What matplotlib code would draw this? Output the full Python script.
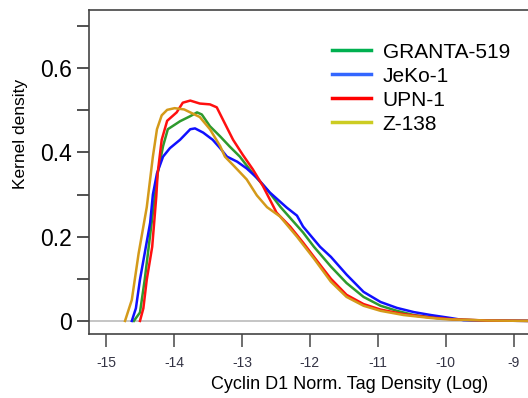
import matplotlib
matplotlib.use('Agg')
import matplotlib.pyplot as plt
from matplotlib.lines import Line2D
import numpy as np

plt.rcParams['font.family'] = ['Liberation Sans', 'DejaVu Sans']

# curves (x = log tag density, y = kernel density)
granta_x = [-14.59, -14.50, -14.43, -14.31, -14.24, -14.16, -14.09, -13.91, -13.76, -13.66, -13.59,
            -13.47, -13.32, -13.18, -13.03, -12.84, -12.63, -12.43, -12.10, -11.94, -11.69, -11.46,
            -11.21, -10.96, -10.72, -10.47, -10.13, -9.80, -9.40, -8.70]
granta_y = [0.0, 0.02, 0.098, 0.257, 0.35, 0.415, 0.455, 0.474, 0.486, 0.495, 0.49,
            0.462, 0.438, 0.414, 0.39, 0.35, 0.312, 0.27, 0.21, 0.176, 0.129, 0.09,
            0.057, 0.036, 0.024, 0.014, 0.007, 0.003, 0.001, 0.0]

jeko_x = [-14.62, -14.56, -14.50, -14.35, -14.31, -14.25, -14.16, -14.06, -13.91, -13.76, -13.69,
          -13.57, -13.43, -13.32, -13.22, -13.07, -12.93, -12.78, -12.59, -12.34, -12.19, -12.10,
          -11.85, -11.69, -11.46, -11.21, -10.96, -10.72, -10.47, -10.22, -9.93, -9.74, -9.40, -8.70]
jeko_y = [0.0, 0.03, 0.098, 0.233, 0.30, 0.35, 0.39, 0.41, 0.43, 0.455, 0.457,
          0.447, 0.43, 0.41, 0.39, 0.378, 0.362, 0.34, 0.305, 0.269, 0.25, 0.224,
          0.176, 0.152, 0.11, 0.069, 0.045, 0.031, 0.021, 0.014, 0.007, 0.002, 0.001, 0.0]

upn_x = [-14.50, -14.45, -14.40, -14.32, -14.26, -14.24, -14.18, -14.10, -13.96, -13.87, -13.76,
         -13.62, -13.47, -13.37, -13.28, -13.13, -12.99, -12.84, -12.69, -12.49, -12.29, -12.10,
         -11.93, -11.69, -11.46, -11.21, -10.96, -10.62, -10.22, -9.90, -9.40, -8.70]
upn_y = [0.0, 0.03, 0.098, 0.176, 0.295, 0.35, 0.43, 0.475, 0.495, 0.518, 0.523,
         0.516, 0.514, 0.507, 0.478, 0.43, 0.395, 0.36, 0.32, 0.257, 0.224, 0.186,
         0.15, 0.1, 0.062, 0.04, 0.027, 0.016, 0.008, 0.004, 0.001, 0.0]

z138_x = [-14.72, -14.62, -14.52, -14.40, -14.31, -14.25, -14.18, -14.10, -13.99, -13.85, -13.76,
          -13.62, -13.47, -13.32, -13.25, -13.10, -12.93, -12.78, -12.63, -12.44, -12.19, -11.94,
          -11.69, -11.46, -11.21, -10.96, -10.62, -10.22, -9.99, -9.40, -8.70]
z138_y = [0.0, 0.05, 0.16, 0.27, 0.39, 0.455, 0.488, 0.501, 0.505, 0.502, 0.495,
          0.484, 0.455, 0.415, 0.39, 0.365, 0.336, 0.298, 0.27, 0.248, 0.20, 0.148,
          0.093, 0.057, 0.036, 0.024, 0.014, 0.007, 0.004, 0.001, 0.0]

names = ['GRANTA-519', 'JeKo-1', 'UPN-1', 'Z-138']
line_colors = ['#2E9A2E', '#1010FF', '#FF1010', '#D49A1A']
legend_colors = ['#00B050', '#3366FF', '#FF0000', '#CCCC22']
series = [(granta_x, granta_y), (jeko_x, jeko_y), (upn_x, upn_y), (z138_x, z138_y)]

fig = plt.figure(figsize=(5.28, 3.98), dpi=100)
# right edge of the box is cropped off in the reference
ax = fig.add_axes([89/528, (398-334)/398, (528-89)/528, (334-10)/398])

ax.axhline(0, color='#BBBBBB', lw=1.2, zorder=1)
for (xs, ys), c in zip(series, line_colors):
    ax.plot(xs, ys, color=c, lw=1.8, zorder=2)

ax.set_xlim(-15.25, -8.79)
ax.set_ylim(-0.031, 0.738)

ax.set_yticks([0, 0.2, 0.4, 0.6])
ax.set_yticklabels(['0', '0.2', '0.4', '0.6'], fontsize=16.5)
ax.set_yticks([0.1, 0.3, 0.5, 0.7], minor=True)
ax.set_xticks([-15, -14, -13, -12, -11, -10, -9])
ax.set_xticklabels(['-15', '-14', '-13', '-12', '-11', '-10', '-9'], fontsize=10, color='#333344')
ax.tick_params(axis='y', which='both', length=9, width=1.2, color='#333333', pad=3)
ax.tick_params(axis='x', length=9, width=1.2, color='#555555', pad=7)

for s in ['left', 'top', 'bottom']:
    ax.spines[s].set_color('#444444')
    ax.spines[s].set_linewidth(1.2)
ax.spines['right'].set_visible(False)

ax.set_ylabel('Kernel density', fontsize=12.5)
ax.yaxis.set_label_coords(-0.138, (334 - 134) / 324)
ax.set_xlabel('Cyclin D1 Norm. Tag Density (Log)', fontsize=13)
ax.xaxis.set_label_coords((350 - 89) / 439, -0.13)

handles = [Line2D([0], [0], color=c, lw=2.5) for c in legend_colors]
fig.legend(handles, names, loc='upper left', bbox_to_anchor=(313/528, 1 - 24/398), frameon=False,
           fontsize=15, handlelength=1.9, handletextpad=0.55, labelspacing=0.24)

fig.savefig('out.png', dpi=100)
